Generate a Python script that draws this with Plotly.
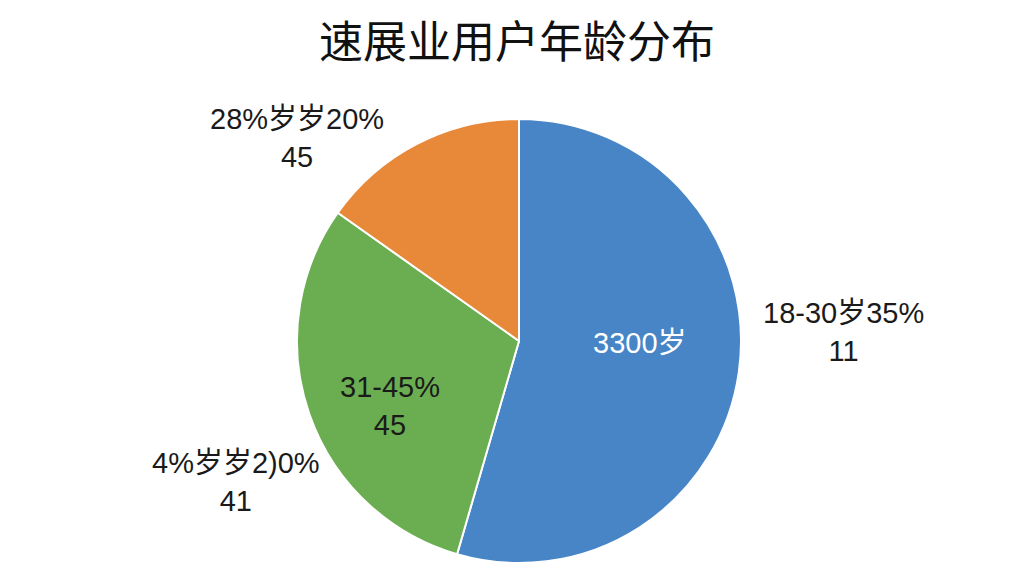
import plotly.graph_objects as go

title = "速展业用户年龄分布"
categories = ["18-30岁", "31-45岁", "46岁以上"]
values = [54.5, 30.3, 15.2]
colors = ["#4785C6", "#6BAE51", "#E8893A"]

inside_labels = ["3300岁", "31-45%<br>45", ""]
outside_labels = ["18-30岁35%<br>11", "4%岁岁2)0%<br>41", "28%岁岁20%<br>45"]

W, H = 1024, 576
cx, cy, r = 519, 341, 222

fig = go.Figure()
fig.add_trace(go.Pie(
    labels=categories,
    values=values,
    sort=False,
    direction="clockwise",
    rotation=0,
    marker=dict(colors=colors, line=dict(color="white", width=2)),
    textinfo="none",
    hoverinfo="label+percent",
    showlegend=False,
    domain=dict(x=[(cx - r) / W, (cx + r) / W], y=[(H - cy - r) / H, (H - cy + r) / H]),
))

FONT = "Liberation Sans, Arial, Noto Sans CJK SC"

# label centre positions (pixel coordinates in the picture)
inside_pos = [(640, 343), (390, 406), None]
outside_pos = [(843, 332), (236, 482), (297, 138)]
inside_colors = ["white", "#1a1a1a", "#1a1a1a"]

annotations = []
for txt, pos, col in zip(inside_labels, inside_pos, inside_colors):
    if pos and txt:
        annotations.append(dict(x=pos[0] / W, y=1 - pos[1] / H, xref="paper", yref="paper",
                                text=txt, showarrow=False, xanchor="center", yanchor="middle",
                                font=dict(size=29, color=col, family=FONT)))
for txt, pos in zip(outside_labels, outside_pos):
    annotations.append(dict(x=pos[0] / W, y=1 - pos[1] / H, xref="paper", yref="paper",
                            text=txt, showarrow=False, xanchor="center", yanchor="middle",
                            font=dict(size=29, color="#1a1a1a", family=FONT)))

annotations.append(dict(x=517 / W, y=1 - 39 / H, xref="paper", yref="paper", text=title,
                        showarrow=False, xanchor="center", yanchor="middle",
                        font=dict(size=44, color="#111111", family="Noto Sans CJK SC")))

fig.update_layout(
    width=W, height=H,
    margin=dict(l=0, r=0, t=0, b=0),
    paper_bgcolor="white",
    plot_bgcolor="white",
    annotations=annotations,
)

fig.write_html("out.html", config={"displayModeBar": False},
               post_script="document.body.style.margin='0';")
